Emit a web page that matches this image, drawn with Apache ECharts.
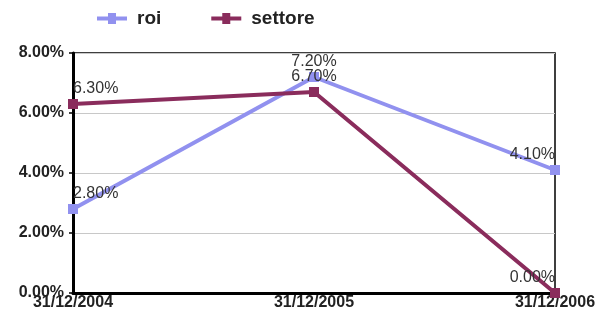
<!DOCTYPE html>
<html>
<head>
<meta charset="utf-8">
<script src="https://cdn.jsdelivr.net/npm/echarts@6/dist/echarts.min.js"></script>
<style>
  html, body { margin: 0; padding: 0; background: #fff; }
  #chart { width: 600px; height: 315px; }
</style>
</head>
<body>
<div id="chart"></div>
<script>
var categories = ['31/12/2004', '31/12/2005', '31/12/2006'];
var roi = [2.80, 7.20, 4.10];
var settore = [6.30, 6.70, 0.00];
var yTicks = [0, 2, 4, 6, 8];

var labelAligns = ['left', 'center', 'right'];

function pct(v) { return Number(v).toFixed(2) + '%'; }

function toItems(values) {
  return values.map(function (v, i) {
    return { value: v, label: { align: labelAligns[i] } };
  });
}

// thick line with a square in the middle, for the legend
var legendIcon = 'path://M0,3.5H11V0H19V3.5H30V7.5H19V11H11V7.5H0Z';

var myChart = echarts.init(document.getElementById('chart'));
var pointLabel = {
  show: true, position: 'top', distance: 2,
  fontFamily: 'Liberation Sans', fontSize: 16, color: '#333',
  formatter: function (p) { return pct(p.value); }
};
var option = {
  animation: false,
  color: ['#9191ef', '#8a2c5c'],
  legend: {
    top: 4,
    left: 92,
    itemWidth: 30,
    itemHeight: 11,
    itemGap: 50,
    textStyle: { fontFamily: 'Liberation Sans', fontWeight: 'bold', fontSize: 19, color: '#222', padding: [0, 0, 0, 5] },
    data: [
      { name: 'roi', icon: legendIcon },
      { name: 'settore', icon: legendIcon }
    ]
  },
  grid: {
    left: 73, right: 45, top: 53, bottom: 22,
    show: true, borderColor: '#000', borderWidth: 1.5
  },
  xAxis: {
    type: 'category',
    boundaryGap: false,
    data: categories,
    axisLine: { lineStyle: { color: '#000', width: 3 } },
    axisTick: { show: false },
    axisLabel: {
      margin: 2, fontFamily: 'Liberation Sans', fontWeight: 'bold', fontSize: 16, color: '#222',
      showMinLabel: true, showMaxLabel: true, interval: 0
    }
  },
  yAxis: {
    type: 'value',
    min: yTicks[0],
    max: yTicks[yTicks.length - 1],
    interval: 2,
    axisLine: { show: true, lineStyle: { color: '#000', width: 3 } },
    axisTick: { show: true, length: 4, lineStyle: { color: '#000', width: 1.5 } },
    splitLine: { lineStyle: { color: '#c8c8c8', width: 1 } },
    axisLabel: {
      margin: 9, fontFamily: 'Liberation Sans', fontWeight: 'bold', fontSize: 16, color: '#222',
      formatter: function (v) { return pct(v); }
    }
  },
  series: [
    {
      name: 'roi',
      type: 'line',
      data: toItems(roi),
      symbol: 'rect',
      symbolSize: 10,
      lineStyle: { width: 4 },
      label: pointLabel
    },
    {
      name: 'settore',
      type: 'line',
      data: toItems(settore),
      symbol: 'rect',
      symbolSize: 10,
      lineStyle: { width: 4 },
      label: pointLabel
    }
  ]
};
myChart.setOption(option);
</script>
</body>
</html>
